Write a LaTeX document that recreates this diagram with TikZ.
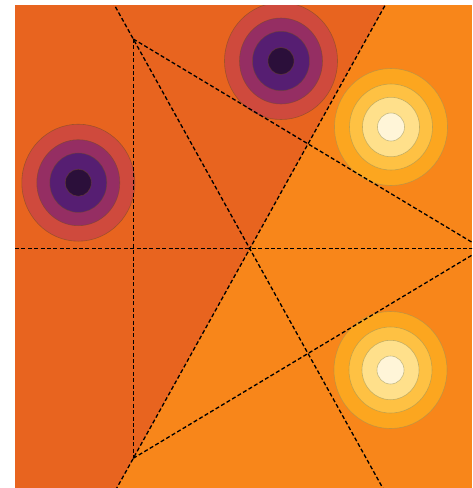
\documentclass[tikz,border=0pt]{standalone}
\usetikzlibrary{calc}
\definecolor{bgdark}{HTML}{E8641F}
\definecolor{bglight}{HTML}{F8861A}
\definecolor{lowA}{HTML}{CF4A3D}
\definecolor{lowB}{HTML}{952E63}
\definecolor{lowC}{HTML}{561E72}
\definecolor{lowD}{HTML}{2B0F3A}
\definecolor{highA}{HTML}{FCA61F}
\definecolor{highB}{HTML}{FEC143}
\definecolor{highC}{HTML}{FFE08B}
\definecolor{highD}{HTML}{FFF5D8}
\begin{document}
\begin{tikzpicture}[x=1pt, y=-1pt,
  guide/.style={draw=black, line width=1.3pt, dash pattern=on 4pt off 2.4pt},
  ring/.style={line width=0.6pt, draw opacity=0.55}
]
\fill[white] (0,0) rectangle (472,488);
\useasboundingbox (0,0) rectangle (472,488);
% triangle corners and centre
\coordinate (A) at (133.3,39);
\coordinate (B) at (133.3,458.3);
\coordinate (R) at (482.7,248.7);
\coordinate (C) at (249.8,248.7);
\coordinate (L) at (15,248.7);
\begin{scope}
\clip (15,5) rectangle (472,488);
\fill[bglight] (15,5) rectangle (472,488);
\fill[bgdark] ($(B)!3!(C)$) -- (0,-200) -- (0,700) -- ($(C)!2!(B)$) -- cycle;
% minima (dark) and maxima (light)
\foreach \cx/\cy in {78.3/182.7, 281/61} {
  \foreach \rx/\ry/\c in {56.5/58.5/lowA, 41.5/43/lowB, 28.5/29.7/lowC, 13/13.5/lowD}
    \filldraw[ring, fill=\c, draw=black!40!brown] (\cx,\cy) ellipse [x radius=\rx, y radius=\ry];
}
\foreach \cx/\cy in {391/127, 390.5/370} {
  \foreach \rx/\ry/\c in {56.5/58.5/highA, 41.5/43/highB, 28.5/29.7/highC, 13.5/14/highD}
    \filldraw[ring, fill=\c, draw=black!45!yellow!70!gray] (\cx,\cy) ellipse [x radius=\rx, y radius=\ry];
}
% dashed guides
\draw[guide] (A) -- (B);
\draw[guide] (A) -- (R);
\draw[guide] (B) -- (R);
\draw[guide] (L) -- (R);
\draw[guide] ($(C)!1.5!(A)$) -- ($(A)!3!(C)$);
\draw[guide] ($(C)!1.5!(B)$) -- ($(B)!3!(C)$);
\end{scope}
\end{tikzpicture}
\end{document}
